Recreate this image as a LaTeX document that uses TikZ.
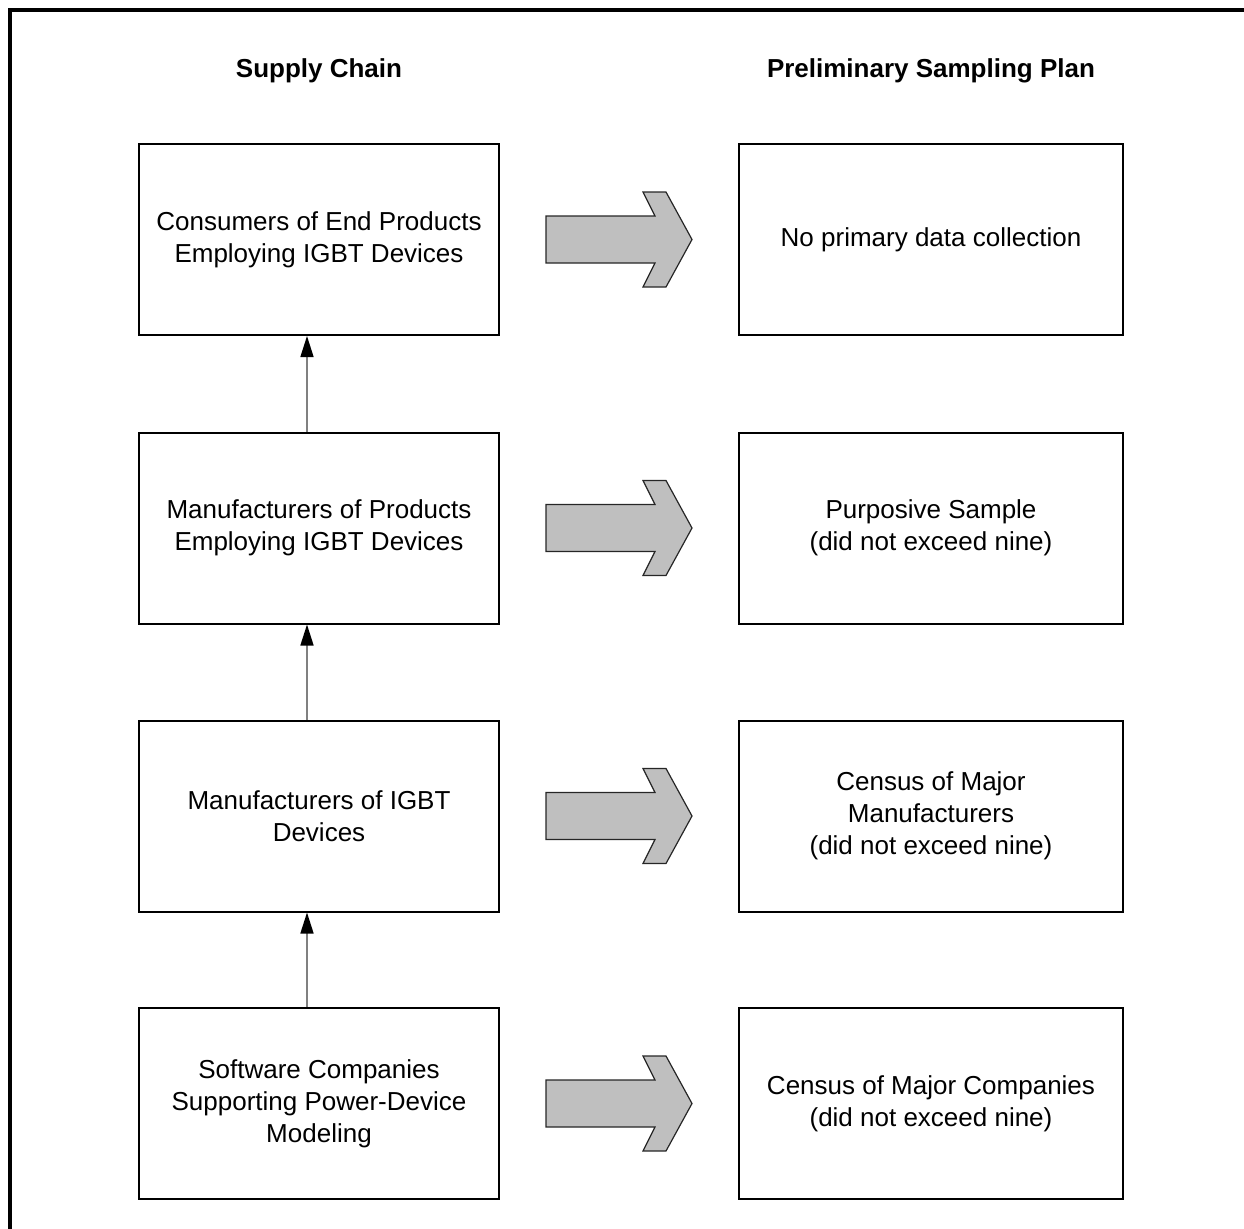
\documentclass[tikz,border=0pt]{standalone}
\usepackage{fontspec}
\setmainfont{Liberation Sans}
\usetikzlibrary{calc,arrows.meta}
\definecolor{arrow_gray}{rgb}{0.75,0.75,0.75}
\definecolor{link_gray}{rgb}{0.50,0.50,0.50}

\begin{document}
\begin{tikzpicture}[x=0.5pt,y=-0.5pt,
    every node/.style={font=\fontsize{13}{16}\selectfont},
    chain box/.style={draw,line width=1pt,minimum width=180pt,
      minimum height=95.5pt,align=center,inner sep=0pt},
    plan box/.style={chain box,minimum width=192pt},
    heading/.style={font=\fontsize{13}{16}\selectfont\bfseries},
    up link/.style={draw=link_gray,line width=0.75pt,
      -{Triangle[black,length=10.5pt,width=6.5pt]}},
    fat arrow/.pic={
      \filldraw[fill=arrow_gray,draw=black!85,line width=0.6pt]
        (-73,-23.5) -- (36,-23.5) -- (24,-47.5) -- (47,-47.5) -- (73,0)
        -- (47,47.5) -- (24,47.5) -- (36,23.5) -- (-73,23.5) -- cycle;}
  ]
  \useasboundingbox (0,0) rectangle (1244,1228);
  \draw[line width=1.8pt] (10,1240) -- (10,10) -- (1250,10);

  \node[heading] (chainhead) at (319,70.5) {Supply Chain};
  \node[heading] (planhead) at (931,70.5) {Preliminary Sampling Plan};

  % supply chain
  \node[chain box] (consumers) at (319,239.5) {Consumers of End Products\\Employing IGBT Devices};
  \node[chain box] (products) at (319,528) {Manufacturers of Products\\Employing IGBT Devices};
  \node[chain box] (devices) at (319,816) {Manufacturers of IGBT\\Devices};
  \node[chain box] (software) at (319,1103.5) {Software Companies\\Supporting Power-Device\\Modeling};

  % sampling plan
  \node[plan box] (nodata) at (931,239.5) {No primary data collection};
  \node[plan box] (purposive) at (931,528) {Purposive Sample\\(did not exceed nine)};
  \node[plan box] (census) at (931,816) {Census of Major\\Manufacturers\\(did not exceed nine)};
  \node[plan box] (companies) at (931,1103.5) {Census of Major Companies\\(did not exceed nine)};

  \draw[up link] ([xshift=-6pt]products.north) -- ([xshift=-6pt]consumers.south);
  \draw[up link] ([xshift=-6pt]devices.north) -- ([xshift=-6pt]products.south);
  \draw[up link] ([xshift=-6pt]software.north) -- ([xshift=-6pt]devices.south);

  \foreach \from/\to in {consumers/nodata,products/purposive,devices/census,software/companies}
    \pic at ($(\from.east)!0.5!(\to.west)$) {fat arrow};
\end{tikzpicture}
\end{document}
